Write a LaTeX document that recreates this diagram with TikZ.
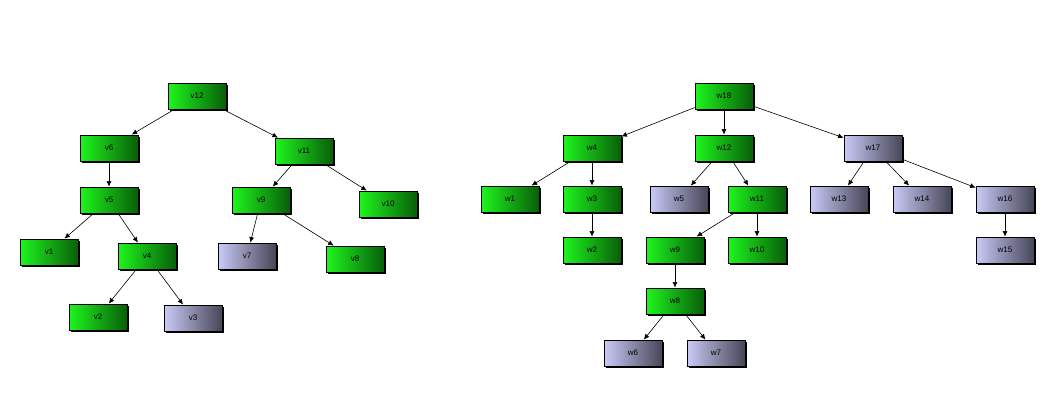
\documentclass[tikz,border=0pt]{standalone}
\usepackage{fontspec}
\setmainfont{Liberation Sans}
\usetikzlibrary{shadows,arrows.meta}
\definecolor{gleft}{RGB}{30,245,30}
\definecolor{gright}{RGB}{8,95,8}
\definecolor{bleft}{RGB}{202,202,248}
\definecolor{bright}{RGB}{70,70,88}
\tikzset{
  box/.style={draw=black, line width=0.8pt, minimum width=58pt, minimum height=26pt,
    inner sep=0pt, font=\fontsize{8}{9}\selectfont, text=black,
    shading=axis, shading angle=90,
    drop shadow={shadow xshift=1.6pt, shadow yshift=-1.6pt, fill=black, opacity=1}},
  gn/.style={box, left color=gleft, right color=gright},
  bn/.style={box, left color=bleft, right color=bright},
  link/.style={-{Latex[length=5.5pt,width=5pt]}, line width=0.6pt, black}
}
\begin{document}
\begin{tikzpicture}[x=1pt,y=1pt]
\useasboundingbox[fill=white] (0,0) rectangle (1057,-404);
% left tree
\node[gn] (v12) at (197,-96) {v12};
\node[gn] (v6) at (109,-148) {v6};
\node[gn] (v11) at (304,-151) {v11};
\node[gn] (v5) at (109,-200) {v5};
\node[gn] (v9) at (261,-200) {v9};
\node[gn] (v10) at (388,-204) {v10};
\node[gn] (v1) at (49,-252) {v1};
\node[gn] (v4) at (147,-256) {v4};
\node[bn] (v7) at (247,-256) {v7};
\node[gn] (v8) at (355,-259) {v8};
\node[gn] (v2) at (98,-317) {v2};
\node[bn] (v3) at (193,-318) {v3};
\draw[link] (v12) -- (v6);
\draw[link] (v12) -- (v11);
\draw[link] (v6) -- (v5);
\draw[link] (v5) -- (v1);
\draw[link] (v5) -- (v4);
\draw[link] (v4) -- (v2);
\draw[link] (v4) -- (v3);
\draw[link] (v11) -- (v9);
\draw[link] (v11) -- (v10);
\draw[link] (v9) -- (v7);
\draw[link] (v9) -- (v8);
% right tree
\node[gn] (w18) at (724,-96) {w18};
\node[gn] (w4) at (592,-148) {w4};
\node[gn] (w12) at (724,-148) {w12};
\node[bn] (w17) at (873,-148) {w17};
\node[gn] (w1) at (510,-199) {w1};
\node[gn] (w3) at (592,-199) {w3};
\node[bn] (w5) at (679,-199) {w5};
\node[gn] (w11) at (757,-199) {w11};
\node[bn] (w13) at (839,-199) {w13};
\node[bn] (w14) at (922,-199) {w14};
\node[bn] (w16) at (1005,-199) {w16};
\node[gn] (w2) at (592,-250) {w2};
\node[gn] (w9) at (675,-250) {w9};
\node[gn] (w10) at (757,-250) {w10};
\node[bn] (w15) at (1005,-250) {w15};
\node[gn] (w8) at (675,-301) {w8};
\node[bn] (w6) at (633,-353) {w6};
\node[bn] (w7) at (716,-353) {w7};
\draw[link] (w18) -- (w4);
\draw[link] (w18) -- (w12);
\draw[link] (w18) -- (w17);
\draw[link] (w4) -- (w1);
\draw[link] (w4) -- (w3);
\draw[link] (w3) -- (w2);
\draw[link] (w12) -- (w5);
\draw[link] (w12) -- (w11);
\draw[link] (w11) -- (w9);
\draw[link] (w11) -- (w10);
\draw[link] (w9) -- (w8);
\draw[link] (w8) -- (w6);
\draw[link] (w8) -- (w7);
\draw[link] (w17) -- (w13);
\draw[link] (w17) -- (w14);
\draw[link] (w17) -- (w16);
\draw[link] (w16) -- (w15);
\end{tikzpicture}
\end{document}
